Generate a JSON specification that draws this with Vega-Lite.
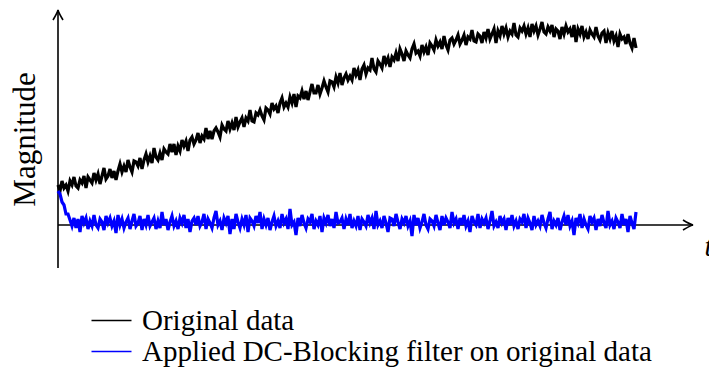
{
"$schema": "https://vega.github.io/schema/vega-lite/v6.json",
"width": 635, "height": 258,
"autosize": {"type": "none"},
"padding": {"left": 58, "top": 10, "right": 16, "bottom": 100},
"config": {"view": {"stroke": null}, "font": "Liberation Serif"},
"datasets": {"sig": [
{"t":0,"a":40,"b":34},{"t":1,"a":34,"b":31},{"t":2,"a":44,"b":23},{"t":3,"a":37,"b":20},{"t":4,"a":40,"b":11},{"t":5,"a":34,"b":11},{"t":6,"a":44,"b":5},{"t":7,"a":40,"b":-1},{"t":8,"a":48,"b":7},{"t":9,"a":39,"b":-3},
{"t":10,"a":37,"b":6},{"t":11,"a":45,"b":-7},{"t":12,"a":42,"b":9},{"t":13,"a":49,"b":2},{"t":14,"a":37,"b":7},{"t":15,"a":48,"b":-4},{"t":16,"a":45,"b":4},{"t":17,"a":42,"b":-1},{"t":18,"a":52,"b":10},{"t":19,"a":45,"b":0},
{"t":20,"a":51,"b":-3},{"t":21,"a":41,"b":6},{"t":22,"a":49,"b":3},{"t":23,"a":57,"b":-5},{"t":24,"a":46,"b":9},{"t":25,"a":49,"b":2},{"t":26,"a":56,"b":7},{"t":27,"a":47,"b":-1},{"t":28,"a":54,"b":4},{"t":29,"a":45,"b":-8},
{"t":30,"a":54,"b":10},{"t":31,"a":61,"b":0},{"t":32,"a":53,"b":6},{"t":33,"a":59,"b":-3},{"t":34,"a":53,"b":3},{"t":35,"a":65,"b":7},{"t":36,"a":58,"b":-4},{"t":37,"a":53,"b":4},{"t":38,"a":64,"b":11},{"t":39,"a":63,"b":-1},
{"t":40,"a":59,"b":2},{"t":41,"a":67,"b":9},{"t":42,"a":56,"b":-5},{"t":43,"a":65,"b":6},{"t":44,"a":71,"b":0},{"t":45,"a":63,"b":10},{"t":46,"a":69,"b":-1},{"t":47,"a":62,"b":3},{"t":48,"a":77,"b":7},{"t":49,"a":68,"b":-4},
{"t":50,"a":65,"b":4},{"t":51,"a":72,"b":-3},{"t":52,"a":65,"b":13},{"t":53,"a":76,"b":0},{"t":54,"a":73,"b":6},{"t":55,"a":71,"b":-5},{"t":56,"a":81,"b":3},{"t":57,"a":73,"b":9},{"t":58,"a":81,"b":-1},{"t":59,"a":70,"b":4},
{"t":60,"a":79,"b":-4},{"t":61,"a":74,"b":7},{"t":62,"a":85,"b":2},{"t":63,"a":79,"b":10},{"t":64,"a":84,"b":-3},{"t":65,"a":74,"b":6},{"t":66,"a":85,"b":-7},{"t":67,"a":88,"b":4},{"t":68,"a":81,"b":7},{"t":69,"a":85,"b":0},
{"t":70,"a":92,"b":9},{"t":71,"a":82,"b":-1},{"t":72,"a":89,"b":3},{"t":73,"a":86,"b":11},{"t":74,"a":97,"b":-4},{"t":75,"a":86,"b":6},{"t":76,"a":94,"b":2},{"t":77,"a":86,"b":-3},{"t":78,"a":94,"b":7},{"t":79,"a":97,"b":14},
{"t":80,"a":93,"b":0},{"t":81,"a":88,"b":4},{"t":82,"a":100,"b":-5},{"t":83,"a":96,"b":7},{"t":84,"a":94,"b":2},{"t":85,"a":104,"b":9},{"t":86,"a":96,"b":-9},{"t":87,"a":102,"b":6},{"t":88,"a":95,"b":-4},{"t":89,"a":108,"b":11},
{"t":90,"a":98,"b":3},{"t":91,"a":103,"b":-3},{"t":92,"a":107,"b":6},{"t":93,"a":98,"b":0},{"t":94,"a":107,"b":10},{"t":95,"a":104,"b":-7},{"t":96,"a":115,"b":7},{"t":97,"a":104,"b":4},{"t":98,"a":103,"b":-1},{"t":99,"a":112,"b":9},
{"t":100,"a":110,"b":2},{"t":101,"a":115,"b":13},{"t":102,"a":109,"b":-4},{"t":103,"a":105,"b":6},{"t":104,"a":117,"b":0},{"t":105,"a":115,"b":7},{"t":106,"a":111,"b":-5},{"t":107,"a":122,"b":3},{"t":108,"a":116,"b":9},{"t":109,"a":119,"b":-1},
{"t":110,"a":112,"b":4},{"t":111,"a":122,"b":-3},{"t":112,"a":127,"b":11},{"t":113,"a":118,"b":2},{"t":114,"a":122,"b":6},{"t":115,"a":118,"b":-4},{"t":116,"a":128,"b":16},{"t":117,"a":122,"b":0},{"t":118,"a":131,"b":3},{"t":119,"a":118,"b":-10},
{"t":120,"a":129,"b":7},{"t":121,"a":127,"b":-1},{"t":122,"a":134,"b":10},{"t":123,"a":126,"b":2},{"t":124,"a":134,"b":-3},{"t":125,"a":125,"b":6},{"t":126,"a":133,"b":3},{"t":127,"a":141,"b":11},{"t":128,"a":132,"b":-4},{"t":129,"a":132,"b":4},
{"t":130,"a":140,"b":0},{"t":131,"a":131,"b":9},{"t":132,"a":137,"b":-7},{"t":133,"a":144,"b":7},{"t":134,"a":138,"b":2},{"t":135,"a":133,"b":10},{"t":136,"a":144,"b":-1},{"t":137,"a":143,"b":6},{"t":138,"a":138,"b":-3},{"t":139,"a":148,"b":13},
{"t":140,"a":142,"b":2},{"t":141,"a":152,"b":3},{"t":142,"a":140,"b":7},{"t":143,"a":147,"b":-4},{"t":144,"a":151,"b":6},{"t":145,"a":145,"b":0},{"t":146,"a":149,"b":11},{"t":147,"a":145,"b":-3},{"t":148,"a":157,"b":4},{"t":149,"a":150,"b":-1},
{"t":150,"a":155,"b":9},{"t":151,"a":145,"b":-5},{"t":152,"a":156,"b":6},{"t":153,"a":160,"b":3},{"t":154,"a":151,"b":-1},{"t":155,"a":157,"b":10},{"t":156,"a":155,"b":2},{"t":157,"a":167,"b":7},{"t":158,"a":156,"b":-4},{"t":159,"a":153,"b":14},
{"t":160,"a":164,"b":0},{"t":161,"a":161,"b":4},{"t":162,"a":157,"b":-3},{"t":163,"a":169,"b":9},{"t":164,"a":162,"b":2},{"t":165,"a":167,"b":-7},{"t":166,"a":158,"b":7},{"t":167,"a":168,"b":6},{"t":168,"a":165,"b":-1},{"t":169,"a":172,"b":11},
{"t":170,"a":164,"b":3},{"t":171,"a":176,"b":-4},{"t":172,"a":171,"b":6},{"t":173,"a":164,"b":2},{"t":174,"a":174,"b":9},{"t":175,"a":170,"b":-1},{"t":176,"a":167,"b":4},{"t":177,"a":176,"b":-11},{"t":178,"a":181,"b":10},{"t":179,"a":172,"b":0},
{"t":180,"a":174,"b":7},{"t":181,"a":169,"b":-3},{"t":182,"a":180,"b":3},{"t":183,"a":173,"b":11},{"t":184,"a":178,"b":0},{"t":185,"a":170,"b":-4},{"t":186,"a":182,"b":6},{"t":187,"a":179,"b":4},{"t":188,"a":175,"b":-1},{"t":189,"a":185,"b":10},
{"t":190,"a":179,"b":2},{"t":191,"a":183,"b":-5},{"t":192,"a":176,"b":9},{"t":193,"a":189,"b":0},{"t":194,"a":180,"b":7},{"t":195,"a":175,"b":3},{"t":196,"a":185,"b":-3},{"t":197,"a":187,"b":13},{"t":198,"a":181,"b":2},{"t":199,"a":185,"b":6},
{"t":200,"a":190,"b":-4},{"t":201,"a":181,"b":7},{"t":202,"a":185,"b":0},{"t":203,"a":190,"b":10},{"t":204,"a":180,"b":-1},{"t":205,"a":188,"b":4},{"t":206,"a":186,"b":-7},{"t":207,"a":195,"b":9},{"t":208,"a":184,"b":3},{"t":209,"a":183,"b":0},
{"t":210,"a":191,"b":11},{"t":211,"a":189,"b":-3},{"t":212,"a":182,"b":6},{"t":213,"a":193,"b":2},{"t":214,"a":187,"b":7},{"t":215,"a":196,"b":-4},{"t":216,"a":186,"b":4},{"t":217,"a":191,"b":14},{"t":218,"a":196,"b":-1},{"t":219,"a":182,"b":3},
{"t":220,"a":194,"b":-3},{"t":221,"a":189,"b":9},{"t":222,"a":199,"b":2},{"t":223,"a":191,"b":6},{"t":224,"a":197,"b":-5},{"t":225,"a":188,"b":7},{"t":226,"a":194,"b":0},{"t":227,"a":191,"b":10},{"t":228,"a":202,"b":-1},{"t":229,"a":190,"b":4},
{"t":230,"a":188,"b":-4},{"t":231,"a":197,"b":6},{"t":232,"a":194,"b":3},{"t":233,"a":199,"b":11},{"t":234,"a":191,"b":-3},{"t":235,"a":197,"b":7},{"t":236,"a":188,"b":2},{"t":237,"a":201,"b":-5},{"t":238,"a":194,"b":9},{"t":239,"a":199,"b":0},
{"t":240,"a":190,"b":4},{"t":241,"a":196,"b":-1},{"t":242,"a":203,"b":10},{"t":243,"a":193,"b":2},{"t":244,"a":191,"b":-3},{"t":245,"a":198,"b":6},{"t":246,"a":194,"b":13},{"t":247,"a":200,"b":-4},{"t":248,"a":188,"b":4},{"t":249,"a":196,"b":0},
{"t":250,"a":194,"b":7},{"t":251,"a":186,"b":-5},{"t":252,"a":198,"b":3},{"t":253,"a":191,"b":9},{"t":254,"a":199,"b":0},{"t":255,"a":193,"b":10},{"t":256,"a":196,"b":-1},{"t":257,"a":188,"b":4},{"t":258,"a":200,"b":-10},{"t":259,"a":183,"b":7},
{"t":260,"a":196,"b":2},{"t":261,"a":191,"b":11},{"t":262,"a":199,"b":-3},{"t":263,"a":188,"b":6},{"t":264,"a":193,"b":0},{"t":265,"a":186,"b":-4},{"t":266,"a":195,"b":9},{"t":267,"a":191,"b":3},{"t":268,"a":188,"b":7},{"t":269,"a":198,"b":-5},
{"t":270,"a":189,"b":6},{"t":271,"a":185,"b":-1},{"t":272,"a":192,"b":10},{"t":273,"a":194,"b":2},{"t":274,"a":182,"b":-3},{"t":275,"a":192,"b":14},{"t":276,"a":186,"b":0},{"t":277,"a":194,"b":4},{"t":278,"a":184,"b":-4},{"t":279,"a":189,"b":7},
{"t":280,"a":178,"b":3},{"t":281,"a":191,"b":-3},{"t":282,"a":186,"b":11},{"t":283,"a":188,"b":0},{"t":284,"a":181,"b":6},{"t":285,"a":191,"b":-7},{"t":286,"a":182,"b":9},{"t":287,"a":177,"b":2},{"t":288,"a":187,"b":-4},{"t":289,"a":177,"b":13}
]},
"layer": [
{
"data": {"values": [{}]},
"mark": {"type": "rule", "color": "black", "strokeWidth": 1.6},
"encoding": {
"x": {"datum": 0, "type": "quantitative", "scale": {"domain": [0, 317.5], "nice": false, "zero": false},
"axis": {"domain": false, "ticks": false, "labels": false, "grid": false, "title": "t", "titleFont": "Liberation Serif", "titleFontStyle": "italic", "titleFontWeight": "normal", "titleFontSize": 29, "titleColor": "black", "titleX": 646, "titleY": -13, "titleAlign": "left", "titleBaseline": "alphabetic", "titleAnchor": null}},
"x2": {"datum": 317.5},
"y": {"datum": 0, "type": "quantitative", "scale": {"domain": [-43, 215], "nice": false, "zero": false},
"axis": {"domain": false, "ticks": false, "labels": false, "grid": false, "title": "Magnitude", "titleFont": "Liberation Serif", "titleFontWeight": "normal", "titleFontSize": 31, "titleColor": "black", "titleX": -33, "titleY": 129, "titleAlign": "center", "titleBaseline": "middle", "titleAngle": 270}}
}
},
{
"data": {"values": [{}]},
"mark": {"type": "rule", "color": "black", "strokeWidth": 1.6},
"encoding": {
"x": {"datum": 0, "type": "quantitative"},
"y": {"datum": -43, "type": "quantitative"},
"y2": {"datum": 215}
}
},
{
"data": {"name": "sig"},
"transform": [{"fold": ["a", "b"], "as": ["s", "v"]}],
"mark": {"type": "line", "strokeWidth": 3.2, "clip": false},
"encoding": {
"x": {"field": "t", "type": "quantitative"},
"y": {"field": "v", "type": "quantitative"},
"color": {"field": "s", "type": "nominal", "scale": {"domain": ["a", "b"], "range": ["#000000", "#0000ff"]},
"legend": {"title": null, "orient": "none", "legendX": 39, "legendY": 296, "padding": 0, "symbolType": "M-2,0L2,0", "symbolSize": 400, "symbolStrokeWidth": 1.5, "labelFont": "Liberation Serif", "labelFontSize": 29, "labelColor": "black", "labelLimit": 700, "labelOffset": 16, "rowPadding": 1,
"labelExpr": "datum.label == 'a' ? 'Original data' : 'Applied DC-Blocking filter on original data'"}}
}
},
{
"data": {"values": [{}]},
"mark": {"type": "point", "shape": "M-2,-1 Q-0.6,-0.15 0,0 Q-0.6,0.15 -2,1", "size": 100, "filled": false, "stroke": "black", "strokeWidth": 1.6, "opacity": 1},
"encoding": {
"x": {"datum": 317.5, "type": "quantitative"},
"y": {"datum": 0, "type": "quantitative"}
}
},
{
"data": {"values": [{}]},
"mark": {"type": "point", "shape": "M-1,2 Q-0.15,0.6 0,0 Q0.15,0.6 1,2", "size": 100, "filled": false, "stroke": "black", "strokeWidth": 1.6, "opacity": 1},
"encoding": {
"x": {"datum": 0, "type": "quantitative"},
"y": {"datum": 215, "type": "quantitative"}
}
}
]
}
